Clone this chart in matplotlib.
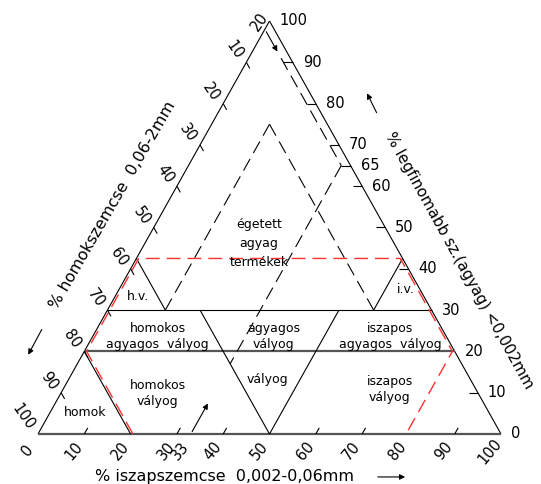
import matplotlib
matplotlib.use('Agg')
import matplotlib.pyplot as plt

# tick values on the three sides
sand_ticks = [10, 20, 30, 40, 50, 60, 70, 80, 90]
silt_ticks = [10, 30, 40, 60, 70, 90]
clay_ticks = [10, 40, 50, 60, 65, 70, 80, 90]

sand_labels = [10, 20, 30, 40, 50, 60, 70, 80, 90, 100]
silt_labels = [0, 10, 20, 30, 33, 40, 50, 60, 70, 80, 90, 100]
clay_labels = [0, 10, 20, 30, 40, 50, 60, 65, 70, 80, 90, 100]

# soil class names and their (silt, clay) anchor
class_names = ['homok', 'homokos\nvályog', 'vályog', 'iszapos\nvályog',
               'homokos\nagyagos  vályog', 'agyagos\nvályog',
               'iszapos\nagyagos  vályog', 'h.v.', 'i.v.']
class_silt = [7.6, 20.9, 43.1, 70.6, 14.0, 39.2, 64.3, 5.0, 61.8]
class_clay = [5.1, 9.8, 13.1, 10.8, 23.6, 23.5, 23.6, 33.2, 35.1]

# boundaries of the fired clay product field
top_cut = 42.5      # clay % of the red field's top
hv_sand = 57.5      # h.v. / i.v. border lines
fired_min = 12.5    # dashed triangle sides
fired_apex = 75
fine_sand = 2
mid_silt = 33


def tp(silt, clay):
    # silt runs along the bottom, clay upwards
    return silt + clay / 2, clay


def seg(ax, a, b, **kw):
    (x1, y1), (x2, y2) = tp(*a), tp(*b)
    ax.plot([x1, x2], [y1, y2], **kw)


def poly(ax, pts, **kw):
    xy = [tp(*p) for p in pts]
    ax.plot([p[0] for p in xy], [p[1] for p in xy], **kw)


fig = plt.figure(figsize=(5.41, 4.84), dpi=100)
ax = fig.add_axes([0, 0, 1, 1])
ax.set_xlim(-38 / 4.63, 503 / 4.63)
ax.set_ylim(-50 / 4.13, 434 / 4.13)
ax.axis('off')

solid = dict(color='black', lw=0.8, solid_capstyle='butt')
heavy = dict(color='#555555', lw=1.6, solid_capstyle='butt')
dash = dict(color='black', lw=0.8, linestyle=(0, (12, 6)))
red = dict(color='#ff3030', lw=1.0, linestyle=(0, (10, 5)))

# outline
seg(ax, (0, 0), (0, 100), **solid)
seg(ax, (100, 0), (0, 100), **solid)
seg(ax, (0, 0), (100, 0), **heavy)

# class borders
seg(ax, (0, 30), (70, 30), **solid)
seg(ax, (0, 20), (80, 20), **heavy)
seg(ax, (0, 20), (20, 0), **solid)
seg(ax, (20, 30), (50, 0), **solid)
seg(ax, (50, 0), (50, 30), **solid)
seg(ax, (100 - hv_sand - top_cut, top_cut), (100 - hv_sand - 30, 30), **solid)
seg(ax, (hv_sand, 30), (hv_sand, top_cut), **solid)

# fired clay product lines
seg(ax, (fired_min, 30), (fired_min, fired_apex), **dash)
seg(ax, (100 - fired_min - 30, 30), (100 - fired_min - fired_apex, fired_apex), **dash)
seg(ax, (100 - fine_sand - 91, 91), (100 - fine_sand - 65, 65), **dash)
seg(ax, (mid_silt, 65), (mid_silt, 17), **dash)

# red field
e = 0.5
poly(ax, [(20 + e, 0), (e, 20), (e, top_cut), (100 - top_cut - e, top_cut),
          (80 - e, 20), (80 - e, 0)], **red)

# ticks
for v in sand_ticks:
    seg(ax, (0, 100 - v), (1.5, 98.5 - v), **solid)
for v in silt_ticks:
    seg(ax, (v, 0), (v, 1.5), **solid)
for v in clay_ticks:
    seg(ax, (100 - v, v), (100 - v - fine_sand, v), **solid)

lab = dict(fontsize=10.5, family='DejaVu Sans', ha='center', va='center')
for v in sand_labels:
    d = (-11, 12) if v == 100 else (-8.6, 8.6)
    ax.annotate(str(v), tp(0, 100 - v), xytext=d, textcoords='offset points',
                rotation=-55, **lab)
ax.annotate('20', tp(0, 100), xytext=(-7.5, -0.7), textcoords='offset points',
            rotation=55, **lab)
for v in silt_labels:
    ax.annotate(str(v), tp(v, 0), xytext=(-7.6, -12.2), textcoords='offset points',
                rotation=50, **lab)
for v in clay_labels:
    ax.annotate(str(v), tp(100 - v, v), xytext=(7.2, 0), textcoords='offset points',
                fontsize=10.5, ha='left', va='center')

# class names
for name, s, c in zip(class_names, class_silt, class_clay):
    x, y = tp(s, c)
    ax.text(x, y, name, fontsize=9, ha='center', va='center', linespacing=1.3)
x, y = tp(24.6, 46.2)
ax.text(x, y, 'égetett\nagyag\ntermékek', fontsize=9, ha='center', va='center',
        linespacing=1.6)

# axis titles
ax.text(40.2, -10.4, '% iszapszemcse  0,002-0,06mm', fontsize=11.5,
        ha='center', va='center')
ax.text(16.2, 55.4, '% homokszemcse  0,06-2mm', fontsize=11.5,
        ha='center', va='center', rotation=60)
ax.text(90.9, 42.1, '% legfinomabb sz.(agyag) <0,002mm', fontsize=11,
        ha='center', va='center', rotation=-61)

arrow = dict(arrowstyle='-|>', lw=0.8, color='black', mutation_scale=8)
ax.annotate('', xy=(79.9, -10.4), xytext=(72.8, -10.4), arrowprops=arrow)
ax.annotate('', xy=(-2.4, 18.6), xytext=(1.1, 25.9), arrowprops=arrow)
ax.annotate('', xy=(70.8, 83.1), xytext=(73.4, 77.2), arrowprops=arrow)
ax.annotate('', xy=tp(100 - fine_sand - 92, 92), xytext=tp(100 - fine_sand - 98, 98),
            arrowprops=arrow)
ax.annotate('', xy=tp(mid_silt, 8), xytext=tp(mid_silt, 0), arrowprops=arrow)

fig.savefig('out.png', dpi=100)
